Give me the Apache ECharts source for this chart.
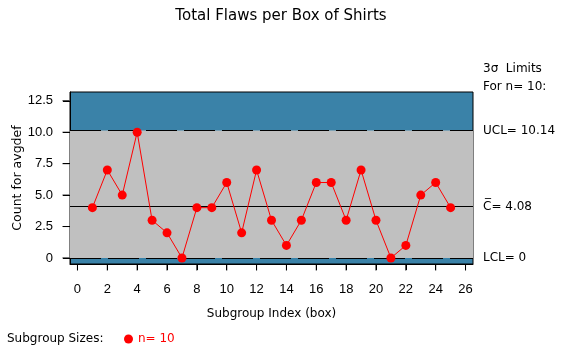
<!DOCTYPE html>
<html>
<head>
<meta charset="utf-8">
<script src="https://cdn.jsdelivr.net/npm/echarts@6/dist/echarts.min.js"></script>
<style>html,body{margin:0;padding:0;background:#fff}#c{width:562px;height:350px}</style>
</head>
<body>
<div id="c"></div>
<script>
const subgroups = [1,2,3,4,5,6,7,8,9,10,11,12,13,14,15,16,17,18,19,20,21,22,23,24,25];
const flaws = [4,7,5,10,3,2,0,4,4,6,2,7,3,1,3,6,6,3,7,3,0,1,5,6,4];
const xTicks = [0,2,4,6,8,10,12,14,16,18,20,22,24,26];
const yTicks = [0,2.5,5,7.5,10,12.5];
const centerLine = 4.08;
const ucl = 10.14;
const lcl = 0;

const X_MIN = -0.5, X_MAX = 26.5, Y_MIN = -0.48, Y_MAX = 13.2;
const FONT = 'DejaVu Sans';
const TICKFONT = 'Liberation Sans';
const chart = echarts.init(document.getElementById('c'), null, {renderer:'canvas'});

chart.setOption({
  animation:false,
  textStyle:{fontFamily:FONT},
  title:{text:'Total Flaws per Box of Shirts', left:'center', top:4,
    textStyle:{fontFamily:FONT, fontWeight:'normal', fontSize:15, color:'#000'}},
  grid:{left:70, right:89, top:92, bottom:86, outerBoundsMode:'none', containLabel:false,
    show:true, backgroundColor:'#3A82A8', borderColor:'#000', borderWidth:1},
  xAxis:{type:'value', min:X_MIN, max:X_MAX, name:'Subgroup Index (box)', nameLocation:'middle', nameGap:44,
    nameMoveOverlap:false,
    nameTextStyle:{fontFamily:FONT, fontSize:12, color:'#000'},
    axisLine:{show:true, onZero:false, lineStyle:{color:'#000', width:1}}, splitLine:{show:false},
    axisTick:{show:true, inside:false, length:6, customValues:xTicks, lineStyle:{color:'#000', width:1}},
    axisLabel:{customValues:xTicks, fontFamily:TICKFONT, fontSize:13, color:'#000', margin:19}},
  yAxis:{type:'value', min:Y_MIN, max:Y_MAX, name:'Count for avgdef', nameLocation:'middle', nameGap:46,
    nameMoveOverlap:false,
    nameTextStyle:{fontFamily:FONT, fontSize:12.5, color:'#000'},
    axisLine:{show:true, onZero:false, lineStyle:{color:'#000', width:1}}, splitLine:{show:false},
    axisTick:{show:true, inside:false, length:7, customValues:yTicks, lineStyle:{color:'#000', width:1}},
    axisLabel:{customValues:yTicks, fontFamily:TICKFONT, fontSize:13, color:'#000', margin:17,
      formatter:v=> v===0 ? '0' : v.toFixed(1)}},
  legend:{left:124, top:333, padding:0, itemWidth:9, itemHeight:9, icon:'circle',
    textStyle:{fontFamily:FONT, fontSize:12, color:'#FF0000'}, data:['n= 10']},
  graphic:[
    {type:'text', left:7, top:333, style:{text:'Subgroup Sizes:', font:'12px "DejaVu Sans"', fill:'#000'}},
    {type:'text', left:483, top:63, style:{text:'3\u03C3  Limits', font:'12px "DejaVu Sans"', fill:'#000'}},
    {type:'text', left:483, top:81, style:{text:'For n= 10:', font:'12px "DejaVu Sans"', fill:'#000'}}
  ],
  series:[{
    name:'n= 10', type:'line', data:subgroups.map((s,i)=>[s,flaws[i]]),
    symbol:'circle', symbolSize:9, itemStyle:{color:'#FF0000'}, lineStyle:{color:'#FF0000', width:1},
    z:5,
    markArea:{silent:true, itemStyle:{color:'#C0C0C0'}, data:[[{yAxis:lcl},{yAxis:ucl}]]},
    markLine:{silent:true, symbol:'none', z:3,
      label:{position:'end', distance:10, fontFamily:FONT, fontSize:12, color:'#000'},
      data:[
        {yAxis:ucl, lineStyle:{color:'#000', width:1, type:[31,7]}, label:{formatter:'UCL= '+ucl.toFixed(2)}},
        {yAxis:centerLine, lineStyle:{color:'#000', width:1, type:'solid'}, label:{formatter:'C\u0305= '+centerLine.toFixed(2)}},
        {yAxis:lcl, lineStyle:{color:'#000', width:1, type:[31,7]}, label:{formatter:'LCL= '+lcl}}
      ]}
  },
  {
    name:'xticks', type:'scatter', silent:true, clip:false, z:20,
    data: xTicks.map(v => [v, Y_MIN]),
    symbol:'rect', symbolSize:[1, 6], symbolOffset:[0, 3.5],
    itemStyle:{color:'#000', opacity:1}
  },
  {
    name:'yticks', type:'scatter', silent:true, clip:false, z:20,
    data: yTicks.map(v => [X_MIN, v]),
    symbol:'rect', symbolSize:[7, 1], symbolOffset:[-4, 0],
    itemStyle:{color:'#000', opacity:1}
  }]
});
</script>
</body>
</html>
